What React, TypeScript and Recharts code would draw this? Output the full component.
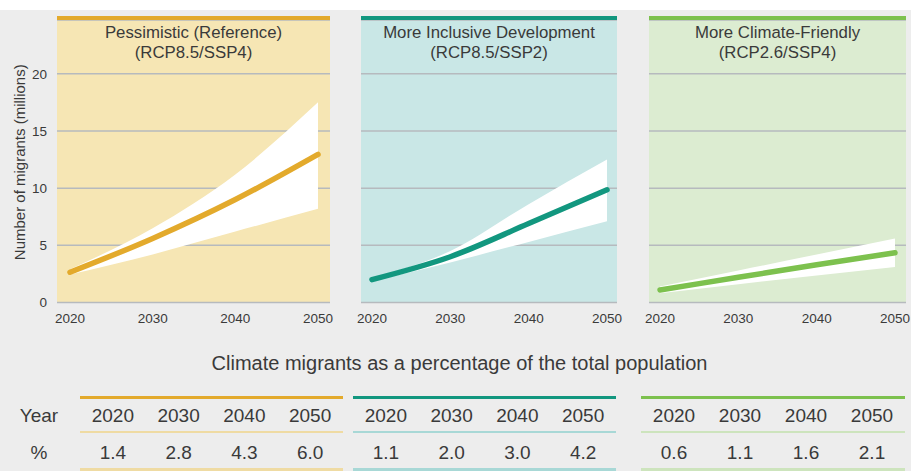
import React from 'react';
import { ComposedChart, Line, Area, XAxis, YAxis, CartesianGrid } from 'recharts';

// Projection years shared by every scenario
const years = [2020, 2030, 2040, 2050];
const yTicks = [0, 5, 10, 15, 20];

// Climate migrants, millions: central estimate and uncertainty range
const pessimisticMid = [2.65, 5.6, 9.0, 12.95];
const pessimisticLow = [2.45, 4.2, 6.2, 8.2];
const pessimisticHigh = [2.9, 6.5, 11.2, 17.5];

const inclusiveMid = [2.0, 4.0, 6.9, 9.85];
const inclusiveLow = [1.85, 3.5, 5.3, 7.1];
const inclusiveHigh = [2.15, 4.5, 8.6, 12.5];

const friendlyMid = [1.1, 2.2, 3.3, 4.35];
const friendlyLow = [0.8, 1.6, 2.35, 3.1];
const friendlyHigh = [1.4, 2.8, 4.2, 5.6];

// Climate migrants as % of total population
const pessimisticShare = [1.4, 2.8, 4.3, 6.0];
const inclusiveShare = [1.1, 2.0, 3.0, 4.2];
const friendlyShare = [0.6, 1.1, 1.6, 2.1];

const FONT = '"Liberation Sans", Arial, Helvetica, sans-serif';
const TEXT = '#3a3a3a';
const GRID = '#b6babe';

type Scenario = {
  title: string;
  subtitle: string;
  mid: number[];
  low: number[];
  high: number[];
  share: number[];
  strong: string;
  soft: string;
  rule: string;
  plotLeft: number;
  plotWidth: number;
  padLeft: number;
  padRight: number;
  tableLeft: number;
  tableWidth: number;
};

const scenarios: Scenario[] = [
  {
    title: 'Pessimistic (Reference)',
    subtitle: '(RCP8.5/SSP4)',
    mid: pessimisticMid,
    low: pessimisticLow,
    high: pessimisticHigh,
    share: pessimisticShare,
    strong: '#e3aa2c',
    soft: '#f6e6b4',
    rule: '#efdba3',
    plotLeft: 57,
    plotWidth: 273,
    padLeft: 13,
    padRight: 12,
    tableLeft: 80,
    tableWidth: 263,
  },
  {
    title: 'More Inclusive Development',
    subtitle: '(RCP8.5/SSP2)',
    mid: inclusiveMid,
    low: inclusiveLow,
    high: inclusiveHigh,
    share: inclusiveShare,
    strong: '#12977f',
    soft: '#c9e7e6',
    rule: '#a8d8d6',
    plotLeft: 361,
    plotWidth: 256,
    padLeft: 11,
    padRight: 10,
    tableLeft: 353,
    tableWidth: 263,
  },
  {
    title: 'More Climate-Friendly',
    subtitle: '(RCP2.6/SSP4)',
    mid: friendlyMid,
    low: friendlyLow,
    high: friendlyHigh,
    share: friendlyShare,
    strong: '#7dc14e',
    soft: '#dcecd1',
    rule: '#cde4bd',
    plotLeft: 649,
    plotWidth: 257,
    padLeft: 11,
    padRight: 11,
    tableLeft: 641,
    tableWidth: 264,
  },
];

const PLOT_TOP = 20;
const CHART_H = 335;
const X_AXIS_H = 32.5;
const Y_MAX = 24.7;
const Y_AXIS_W = 57;
const SIDE = 16;

function xDomain(s: Scenario): [number, number] {
  const span = years[years.length - 1] - years[0];
  const perYear = (s.plotWidth - s.padLeft - s.padRight) / span;
  return [years[0] - s.padLeft / perYear, years[years.length - 1] + s.padRight / perYear];
}

const AxisTitle = (props: any) => {
  const vb = props.viewBox || { x: 0, y: PLOT_TOP, height: 280 };
  const cx = 25;
  const cy = vb.y + vb.height / 2 + 1;
  return (
    <text
      x={cx}
      y={cy}
      transform={`rotate(-90, ${cx}, ${cy})`}
      textAnchor="middle"
      fontSize={15}
      fontFamily={FONT}
      fill={TEXT}
    >
      Number of migrants (millions)
    </text>
  );
};

function Panel({ s, first }: { s: Scenario; first: boolean }) {
  const data = years.map((year, i) => ({
    year,
    mid: s.mid[i],
    band: [s.low[i], s.high[i]],
  }));
  const leftExtra = first ? Y_AXIS_W : SIDE;
  const chartLeft = s.plotLeft - leftExtra;
  const width = leftExtra + s.plotWidth + SIDE;
  return (
    <>
      <div
        style={{
          position: 'absolute',
          left: chartLeft,
          top: 0,
          width,
          height: CHART_H,
        }}
      >
        <ComposedChart
          width={width}
          height={CHART_H}
          data={data}
          margin={{ top: PLOT_TOP, right: SIDE, bottom: 0, left: first ? 0 : SIDE }}
        >
          <CartesianGrid
            vertical={false}
            stroke={GRID}
            strokeWidth={1.5}
            fill={s.soft}
            fillOpacity={1}
          />
          <XAxis
            dataKey="year"
            type="number"
            domain={xDomain(s)}
            ticks={years}
            allowDataOverflow
            tickLine={false}
            axisLine={false}
            height={X_AXIS_H}
            tickMargin={5}
            tick={{ fontSize: 13.5, fill: TEXT, fontFamily: FONT }}
          />
          <YAxis
            hide={!first}
            type="number"
            domain={[0, Y_MAX]}
            ticks={yTicks}
            allowDataOverflow
            width={Y_AXIS_W}
            tickLine={false}
            axisLine={false}
            tickMargin={4}
            tick={{ fontSize: 13.5, fill: TEXT, fontFamily: FONT }}
            label={first ? { content: AxisTitle } : undefined}
          />
          <Area
            dataKey="band"
            type="monotone"
            fill="#ffffff"
            fillOpacity={1}
            stroke="none"
            isAnimationActive={false}
          />
          <Line
            dataKey="mid"
            type="monotone"
            stroke={s.strong}
            strokeWidth={5.5}
            strokeLinecap="round"
            strokeLinejoin="round"
            dot={false}
            activeDot={false}
            isAnimationActive={false}
          />
        </ComposedChart>
      </div>
      <div
        style={{
          position: 'absolute',
          left: s.plotLeft,
          top: 16,
          width: s.plotWidth,
          height: 4,
          background: s.strong,
        }}
      />
      <div
        style={{
          position: 'absolute',
          left: s.plotLeft,
          top: 23,
          width: s.plotWidth,
          textAlign: 'center',
          fontSize: 16.8,
          lineHeight: '19.5px',
          color: TEXT,
          fontFamily: FONT,
        }}
      >
        <div>{s.title}</div>
        <div>{s.subtitle}</div>
      </div>
    </>
  );
}

function ShareTable({ s }: { s: Scenario }) {
  const colW = s.tableWidth / years.length;
  const cell = (content: string, top: number, i: number) => (
    <div
      key={`${top}-${i}`}
      style={{
        position: 'absolute',
        left: s.tableLeft + colW * i,
        top,
        width: colW,
        textAlign: 'center',
        fontSize: 19,
        lineHeight: '22px',
        color: TEXT,
        fontFamily: FONT,
      }}
    >
      {content}
    </div>
  );
  return (
    <>
      <div style={{ position: 'absolute', left: s.tableLeft, top: 396, width: s.tableWidth, height: 3, background: s.strong }} />
      <div style={{ position: 'absolute', left: s.tableLeft, top: 431, width: s.tableWidth, height: 2, background: s.rule }} />
      <div style={{ position: 'absolute', left: s.tableLeft, top: 468, width: s.tableWidth, height: 3, background: s.rule }} />
      {years.map((y, i) => cell(String(y), 404.5, i))}
      {s.share.map((v, i) => cell(v.toFixed(1), 441.5, i))}
    </>
  );
}

export default function App() {
  return (
    <div
      style={{
        position: 'absolute',
        left: 0,
        top: 0,
        width: 911,
        height: 471,
        background: '#ededed',
        overflow: 'hidden',
        fontFamily: FONT,
      }}
    >
      <div style={{ position: 'absolute', left: 0, top: 0, width: 911, height: 10, background: '#ffffff' }} />
      {scenarios.map((s, i) => (
        <Panel key={s.title} s={s} first={i === 0} />
      ))}
      <div
        style={{
          position: 'absolute',
          left: 4,
          top: 351,
          width: 911,
          textAlign: 'center',
          fontSize: 20,
          lineHeight: '24px',
          color: TEXT,
        }}
      >
        Climate migrants as a percentage of the total population
      </div>
      {['Year', '%'].map((label, r) => (
        <div
          key={label}
          style={{
            position: 'absolute',
            left: 8,
            top: r === 0 ? 404.5 : 441.5,
            width: 62,
            textAlign: 'center',
            fontSize: 19,
            lineHeight: '22px',
            color: TEXT,
          }}
        >
          {label}
        </div>
      ))}
      {scenarios.map((s) => (
        <ShareTable key={`t-${s.title}`} s={s} />
      ))}
    </div>
  );
}
